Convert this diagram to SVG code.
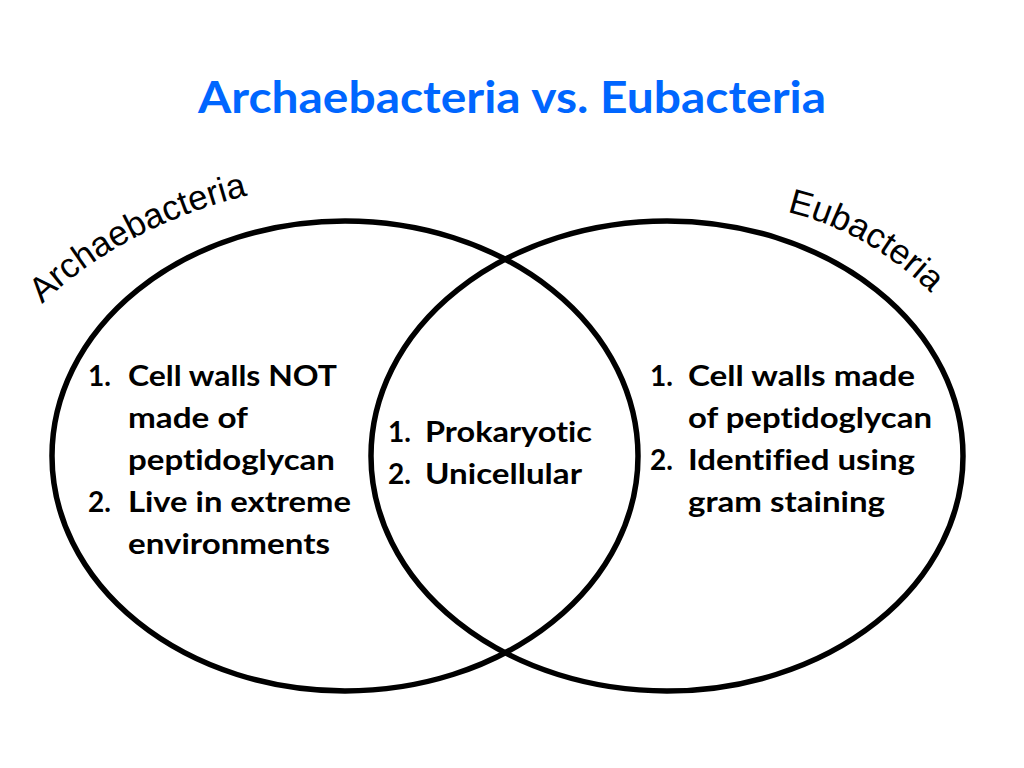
<svg xmlns="http://www.w3.org/2000/svg" width="1024" height="768" viewBox="0 0 1024 768">
<style>
.title{font-family:Lato,"Open Sans","Liberation Sans",sans-serif;font-weight:bold;font-size:44px;fill:#0066ff}
.item{font-family:Lato,"Open Sans","Liberation Sans",sans-serif;font-weight:bold;font-size:28px;fill:#000;font-variant-ligatures:none;font-feature-settings:"liga" 0}
.lab{font-family:"Liberation Sans",Arial,sans-serif;font-size:35px;fill:#000}
.ring{fill:none;stroke:#000;stroke-width:5.5}
</style>
<defs>
<path id="arcA" d="M 42 304 Q 128 222 262 192"/>
<path id="arcE" d="M 787 212 Q 872 232 940 302"/>
</defs>
<rect width="1024" height="768" fill="#fff"/>
<text class="title" x="198" y="113" textLength="628" lengthAdjust="spacingAndGlyphs">Archaebacteria vs. Eubacteria</text>
<g id="archaebacteria">
<ellipse class="ring" cx="345" cy="456" rx="293" ry="235"/>
<text class="lab"><textPath href="#arcA">Archaebacteria</textPath></text>
<text class="item" x="88" y="386">1.</text>
<text class="item" x="128" y="386" textLength="209" lengthAdjust="spacingAndGlyphs">Cell walls NOT</text>
<text class="item" x="128" y="428" textLength="120" lengthAdjust="spacingAndGlyphs">made of</text>
<text class="item" x="128" y="470" textLength="207" lengthAdjust="spacingAndGlyphs">peptidoglycan</text>
<text class="item" x="88" y="512">2.</text>
<text class="item" x="128" y="512" textLength="223" lengthAdjust="spacingAndGlyphs">Live in extreme</text>
<text class="item" x="128" y="554" textLength="202" lengthAdjust="spacingAndGlyphs">environments</text>
</g>
<g id="eubacteria">
<ellipse class="ring" cx="667" cy="456" rx="296" ry="235"/>
<text class="lab"><textPath href="#arcE">Eubacteria</textPath></text>
<text class="item" x="650" y="386">1.</text>
<text class="item" x="688" y="386" textLength="227" lengthAdjust="spacingAndGlyphs">Cell walls made</text>
<text class="item" x="688" y="428" textLength="244" lengthAdjust="spacingAndGlyphs">of peptidoglycan</text>
<text class="item" x="650" y="470">2.</text>
<text class="item" x="688" y="470" textLength="227" lengthAdjust="spacingAndGlyphs">Identified using</text>
<text class="item" x="688" y="512" textLength="197" lengthAdjust="spacingAndGlyphs">gram staining</text>
</g>
<g id="shared">
<text class="item" x="388" y="442">1.</text>
<text class="item" x="425" y="442" textLength="167" lengthAdjust="spacingAndGlyphs">Prokaryotic</text>
<text class="item" x="388" y="484">2.</text>
<text class="item" x="425" y="484" textLength="157" lengthAdjust="spacingAndGlyphs">Unicellular</text>
</g>
<g id="connectors"></g>
</svg>
